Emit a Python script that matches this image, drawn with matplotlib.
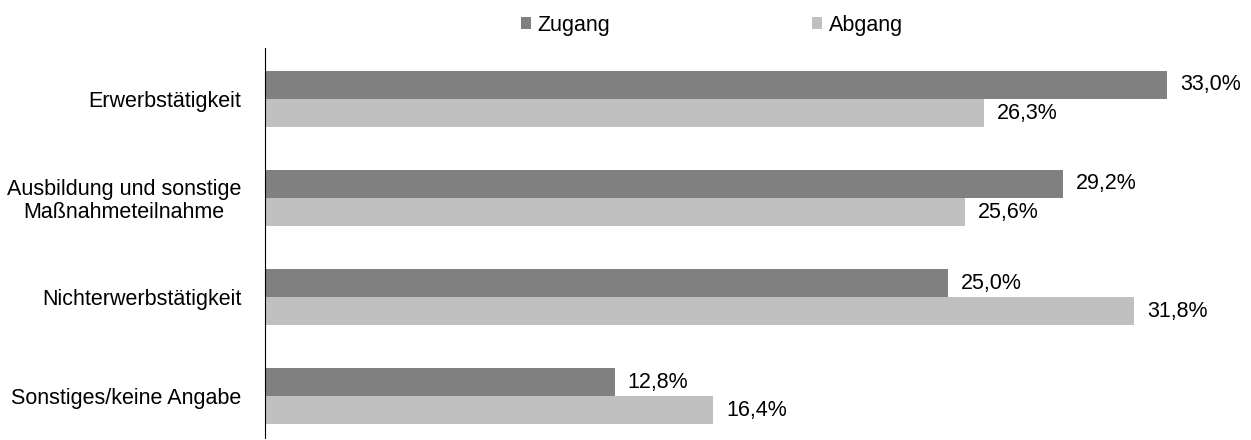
import matplotlib.pyplot as plt
import numpy as np

plt.rcParams["font.family"] = ["Liberation Sans", "DejaVu Sans"]

categories = [
    "Erwerbstätigkeit",
    "Ausbildung und sonstige\nMaßnahmeteilnahme",
    "Nichterwerbstätigkeit",
    "Sonstiges/keine Angabe",
]
zugang = [33.0, 29.2, 25.0, 12.8]
abgang = [26.3, 25.6, 31.8, 16.4]

FS = 15.5

fig = plt.figure(figsize=(12.51, 4.40), dpi=100)
ax = fig.add_axes([265 / 1251, 2 / 440, 984 / 1251, 390 / 440])

y = np.arange(len(categories))
h = 0.283
b1 = ax.barh(y - h / 2, zugang, height=h, color="#808080", label="Zugang")
b2 = ax.barh(y + h / 2, abgang, height=h, color="#c0c0c0", label="Abgang")

for bars, vals in ((b1, zugang), (b2, abgang)):
    for bar, v in zip(bars, vals):
        ax.annotate(f"{v:.1f}%".replace(".", ","),
                    (bar.get_width(), bar.get_y() + bar.get_height() / 2),
                    xytext=(13, 0), textcoords="offset pixels",
                    va="center", ha="left", fontsize=FS)

ax.set_xlim(0, 36)
ax.set_ylim(3.424, -0.515)
ax.set_yticks(y)
ax.set_yticklabels(categories, fontsize=FS, multialignment="center",
                   linespacing=1.1)
ax.tick_params(axis="y", length=0, pad=17)
ax.set_xticks([])
for s in ("top", "right", "bottom"):
    ax.spines[s].set_visible(False)
ax.spines["left"].set_color("black")

fig.legend(handles=[b1, b2], loc="center", bbox_to_anchor=(0.569, 0.943),
           ncol=2, frameon=False, fontsize=FS, handlelength=0.47,
           handleheight=0.47, handletextpad=0.3, columnspacing=9.4)

fig.savefig("out.png", dpi=100)
